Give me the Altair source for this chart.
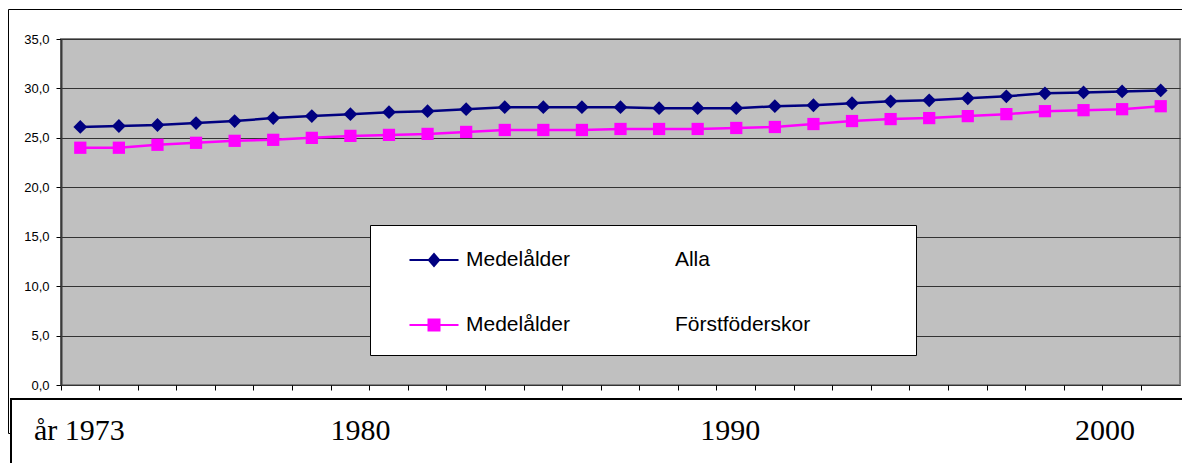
import altair as alt
import pandas as pd

# ---------------- data ----------------
years = list(range(1973, 2002))
alla = [26.1, 26.2, 26.3, 26.5, 26.7, 27.0, 27.2, 27.4, 27.6,
        27.7, 27.9, 28.1, 28.1, 28.1, 28.1, 28.0, 28.0, 28.0, 28.2,
        28.3, 28.5, 28.7, 28.8, 29.0, 29.2, 29.5, 29.6, 29.7, 29.8]
forst = [24.0, 24.0, 24.3, 24.5, 24.7, 24.8, 25.0, 25.2, 25.3,
         25.4, 25.6, 25.8, 25.8, 25.8, 25.9, 25.9, 25.9, 26.0, 26.1,
         26.4, 26.7, 26.9, 27.0, 27.2, 27.4, 27.7, 27.8, 27.9, 28.2]
series_names = ["Alla", "Förstföderskor"]
legend_prefix = "Medelålder"
year_texts = ["år 1973", "1980", "1990", "2000"]
year_text_years = [1973, 1980, 1990, 2000]
y_ticks = [0, 5, 10, 15, 20, 25, 30, 35]

df = pd.DataFrame({
    "year": years * 2,
    "value": alla + forst,
    "series": [series_names[0]] * len(years) + [series_names[1]] * len(years),
})

# ---------------- style ----------------
NB = "\u00a0"
BLANK = "\u2800"
colors = ["#000080", "#ff00ff"]
year_text_dx = [-1, 10, -6, -17]

x_scale = alt.Scale(type="band", domain=years, paddingInner=0, paddingOuter=0)
x_enc = alt.X("year:O", scale=x_scale,
              axis=alt.Axis(title=None, labels=False, bandPosition=0, tickSize=5,
                            tickColor="black", tickWidth=1, domain=False, grid=False))
y_enc = alt.Y("value:Q", scale=alt.Scale(domain=[0, 35], nice=False),
              axis=alt.Axis(title=None, values=y_ticks, format=".1f",
                            labelExpr="replace(datum.label, '.', ',')",
                            grid=True, gridColor="#333333", gridWidth=1,
                            tickSize=5, tickColor="black", labelPadding=7,
                            domainColor="#3a3a3a", domainWidth=2))
color_scale = alt.Scale(domain=series_names, range=colors)

# legend symbols: sqrt(size)=64 px box, unit = 32 px
diamond_leg = "M-0.766,-0.031H0.766V0.031H-0.766Z M0,-0.234L0.203,0L0,0.234L-0.203,0Z"
square_leg = "M-0.766,-0.031H0.766V0.031H-0.766Z M-0.203,-0.203H0.203V0.203H-0.203Z"

leg = alt.Legend(
    title=BLANK, titleOrient="bottom", titleFontSize=12, titlePadding=6,
    orient="none", legendX=309, legendY=186, direction="vertical",
    fillColor="white", strokeColor="black", padding=3,
    symbolSize=4096, symbolOffset=29, symbolStrokeWidth=0, symbolOpacity=1,
    labelFont="Liberation Sans", labelFontSize=21, labelColor="black",
    labelOffset=0, labelLimit=2000, rowPadding=23,
    labelExpr=f"'{legend_prefix}{NB * 18}' + datum.label + '{NB * 15}{BLANK}'",
)

color_enc = alt.Color("series:N", scale=color_scale, legend=leg)

base = alt.Chart(df)

lines = base.mark_line(strokeWidth=2.5).encode(x=x_enc, y=y_enc, color=color_enc)

pts_a = base.transform_filter(alt.datum.series == series_names[0]).mark_point(
    filled=True, shape="diamond", size=190, opacity=1
).encode(x=x_enc, y=y_enc, color=color_enc)

pts_b = base.transform_filter(alt.datum.series == series_names[1]).mark_point(
    filled=True, shape="square", size=150, opacity=1
).encode(x=x_enc, y=y_enc, color=color_enc)

legend_driver = base.mark_point(filled=True, opacity=0).encode(
    x=x_enc, y=y_enc,
    color=color_enc,
    shape=alt.Shape("series:N", scale=alt.Scale(domain=series_names,
                                                range=[diamond_leg, square_leg]),
                    legend=leg),
)

one = alt.Data(values=[{}])
outer = alt.Chart(one).mark_rect(fill="white", fillOpacity=0, stroke="black",
                                 strokeWidth=1).encode(
    x=alt.value(-52.5), x2=alt.value(1300), y=alt.value(-29.5), y2=alt.value(394.5))

bottom_box = alt.Chart(one).mark_rect(fill="white", stroke="black",
                                      strokeWidth=2).encode(
    x=alt.value(-50), x2=alt.value(1300), y=alt.value(360), y2=alt.value(500))

texts = []
for txt, yr, dx in zip(year_texts, year_text_years, year_text_dx):
    texts.append(
        alt.Chart(pd.DataFrame({"year": [yr], "label": [txt]})).mark_text(
            font="Liberation Serif", fontSize=30, dx=dx, align="center",
            baseline="alphabetic", color="black"
        ).encode(x=x_enc, y=alt.value(401), text="label:N")
    )

chart = alt.layer(outer, lines, pts_a, pts_b, legend_driver, bottom_box, *texts).properties(
    width=1119, height=346,
    padding={"left": 61, "top": 39, "right": 2, "bottom": 78},
    autosize=alt.AutoSizeParams(type="none"),
    background="white",
).configure_view(
    fill="#c0c0c0", stroke="#808080", strokeWidth=2
).configure_axis(
    labelFont="Liberation Sans", labelFontSize=13, labelColor="black"
)

chart.save("out.html", embed_options={"renderer": "svg", "actions": False})
